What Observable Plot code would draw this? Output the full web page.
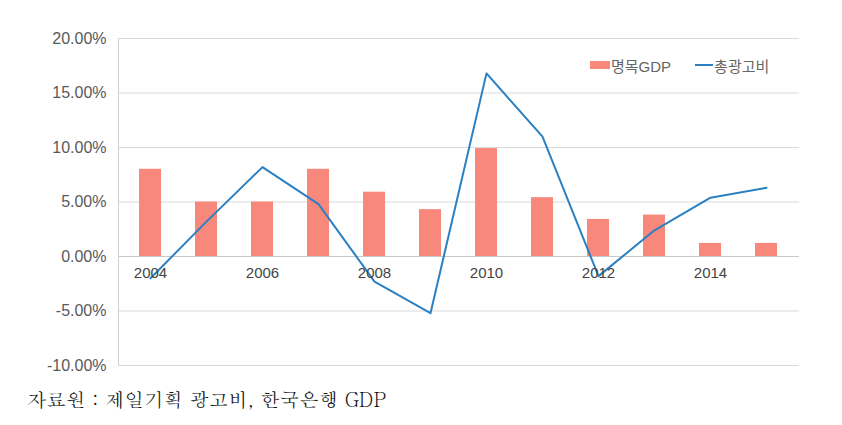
<!DOCTYPE html>
<html>
<head>
<meta charset="utf-8">
<script src="https://cdn.jsdelivr.net/npm/d3@7"></script>
<script src="https://cdn.jsdelivr.net/npm/@observablehq/plot@0.6"></script>
<style>
  body { margin: 0; background: #fff; }
  #wrap { position: relative; width: 842px; height: 425px; font-family: "Liberation Sans", "Noto Sans CJK KR", sans-serif; }
  #legend { position: absolute; left: 590px; top: 55px; height: 20px; display: flex; align-items: center; font-size: 15px; color: #666; font-family: "Liberation Sans", "Noto Sans CJK KR", sans-serif; }
  .sw { display: inline-block; width: 20px; height: 8px; background: #f7887b; margin-right: 1px; }
  .ln { display: inline-block; width: 18px; height: 2px; background: #2a80c2; margin-left: 24px; margin-right: 1px; }
  #caption { position: absolute; left: 27px; top: 385px; font-size: 19.5px; color: #111; font-family: "Batang", "Noto Serif CJK KR", serif; }
</style>
</head>
<body>
<div id="wrap">
  <div id="chart"></div>
  <div id="legend"><span class="sw"></span><span>명목GDP</span><span class="ln"></span><span>총광고비</span></div>
  <div id="caption">자료원 : 제일기획 광고비, 한국은행 GDP</div>
</div>
<script>
const years = ["2004","2005","2006","2007","2008","2009","2010","2011","2012","2013","2014","2015"];
const gdp = [8.0, 5.0, 5.0, 8.0, 5.9, 4.3, 9.9, 5.4, 3.4, 3.8, 1.2, 1.2];
const adSpend = [-2.0, 3.2, 8.2, 4.8, -2.3, -5.2, 16.8, 11.0, -1.8, 2.4, 5.4, 6.3];
const yTicks = [-10, -5, 0, 5, 10, 15, 20];
const xTickLabels = ["2004","2006","2008","2010","2012","2014"];

const rows = years.map((y, i) => ({year: y, gdp: gdp[i], ad: adSpend[i]}));

const chart = Plot.plot({
  width: 842,
  height: 380,
  marginTop: 38,
  marginBottom: 15,
  marginLeft: 118,
  marginRight: 43,
  style: {fontFamily: "Liberation Sans, Noto Sans CJK KR, sans-serif", fontSize: "15px", color: "#555"},
  x: {type: "band", domain: years, paddingInner: 0.6, paddingOuter: 0.33, axis: null},
  y: {domain: [-10, 20], ticks: yTicks, tickFormat: d => d.toFixed(2) + "%"},
  marks: [
    Plot.gridY(yTicks, {stroke: "#d9d9d9", strokeOpacity: 1}),
    Plot.axisY(yTicks, {tickSize: 0, tickPadding: 12, tickFormat: d => d.toFixed(2) + "%", fill: "#595959", fontSize: 16}),
    Plot.barY(rows, {x: "year", y: "gdp", fill: "#f7887b"}),
    Plot.ruleY([0], {stroke: "#c8c8c8"}),
    Plot.line(rows, {x: "year", y: "ad", stroke: "#2a80c2", strokeWidth: 2}),
    Plot.text(xTickLabels, {x: d => d, y: () => 0, dy: 17, text: d => d, fill: "#444", fontSize: 15})
  ]
});
document.getElementById("chart").appendChild(chart);

// vertical y-axis line at the left edge of the plot area
const svg = d3.select(chart);
svg.append("line").attr("x1", 118.5).attr("x2", 118.5).attr("y1", 38).attr("y2", 365).attr("stroke", "#d0d0d0");
</script>
</body>
</html>
